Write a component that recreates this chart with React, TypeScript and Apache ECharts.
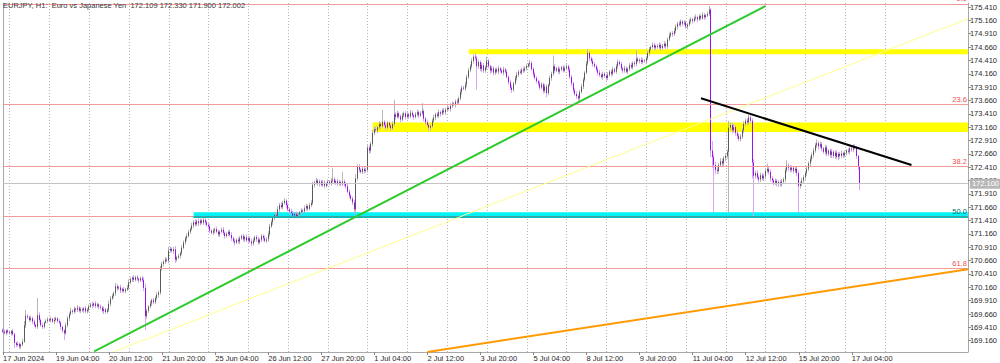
import React, { useEffect, useRef } from "react";
import * as echarts from "echarts";

// ---------- DATA ----------
const headerText = "EURJPY, H1:  Euro vs Japanese Yen  172.109 172.330 171.900 172.002";

// x axis: one category per H1 bar (bars 0..517 hold candles, the rest is empty right margin)
const categoryCount = 583;
const xTickBars = [0, 32, 64, 96, 128, 160, 192, 224, 256, 288, 320, 352, 384, 416, 448, 480, 512];
const xTickLabels = [
  "17 Jun 2024", "19 Jun 04:00", "20 Jun 12:00", "21 Jun 20:00", "25 Jun 04:00", "26 Jun 12:00",
  "27 Jun 20:00", "1 Jul 04:00", "2 Jul 12:00", "3 Jul 20:00", "5 Jul 04:00", "8 Jul 12:00",
  "9 Jul 20:00", "11 Jul 04:00", "12 Jul 12:00", "15 Jul 20:00", "17 Jul 04:00",
];
const dayStartBar = 4; // 18 Jun 00:00
const barsPerDay = 24;
const lastGridBar = 532;

const yTickValues = [
  169.16, 169.41, 169.66, 169.91, 170.16, 170.41, 170.66, 170.91, 171.16, 171.41, 171.66, 171.91,
  172.16, 172.41, 172.66, 172.91, 173.16, 173.41, 173.66, 173.91, 174.16, 174.41, 174.66, 174.91,
  175.16, 175.41,
];
const yMin = 168.949;
const yMax = 175.485;

const firstOpen = 169.36;
// closes per bar, one row per trading day
const closes = [
  169.33, 169.30, 169.35, 169.32,
  169.30, 169.34, 169.28, 169.12, 169.08, 169.10, 169.05, 169.09, 169.14, 169.45, 169.62, 169.60, 169.55, 169.58, 169.52, 169.46, 169.42, 169.64, 169.55, 169.45, 169.42, 169.50, 169.53, 169.56,
  169.54, 169.57, 169.52, 169.55, 169.58, 169.53, 169.50, 169.42, 169.35, 169.30, 169.45, 169.58, 169.66, 169.72, 169.70, 169.76, 169.74, 169.78, 169.72, 169.75, 169.73, 169.77, 169.71, 169.74,
  169.80, 169.84, 169.82, 169.86, 169.81, 169.84, 169.80, 169.78, 169.72, 169.75, 169.70, 169.74, 169.85, 169.95, 170.00, 170.05, 170.18, 170.14, 170.16, 170.10, 170.13, 170.09, 170.12, 170.15,
  170.25, 170.31, 170.34, 170.30, 170.35, 170.32, 170.29, 170.33, 170.30, 170.15, 169.62, 169.72, 169.80, 169.86, 169.92, 169.88, 169.96, 170.02, 170.06, 170.50, 170.60, 170.64, 170.68, 170.66,
  170.85, 170.88, 170.84, 170.87, 170.68, 170.72, 170.75, 170.80, 170.90, 171.00, 171.08, 171.12, 171.20, 171.25, 171.32, 171.38, 171.34, 171.40, 171.36, 171.41, 171.37, 171.42, 171.38, 171.33,
  171.30, 171.22, 171.18, 171.22, 171.25, 171.20, 171.15, 171.20, 171.24, 171.18, 171.12, 171.16, 171.20, 171.14, 171.08, 171.03, 171.00, 171.05, 171.02, 171.08, 171.12, 171.06, 171.10, 171.04,
  171.08, 171.02, 170.98, 171.04, 171.10, 171.06, 171.00, 171.05, 171.12, 171.08, 171.03, 171.06, 171.15, 171.30, 171.38, 171.46, 171.52, 171.50, 171.62, 171.70, 171.66, 171.74, 171.78, 171.70,
  171.62, 171.58, 171.55, 171.50, 171.54, 171.49, 171.52, 171.56, 171.60, 171.58, 171.64, 171.68, 171.63, 171.70, 171.74, 172.08, 172.12, 172.16, 172.10, 172.14, 172.08, 172.12, 172.06, 172.10,
  172.14, 172.11, 172.16, 172.18, 172.12, 172.15, 172.10, 172.13, 172.09, 172.14, 172.10, 172.05, 171.95, 171.88, 171.82, 171.75, 171.62, 172.20, 172.42, 172.36, 172.32, 172.38, 172.34, 172.36,
  172.78, 172.72, 172.85, 173.05, 173.12, 173.10, 173.16, 173.22, 173.18, 173.26, 173.20, 173.15, 173.24, 173.19, 173.14, 173.22, 173.40, 173.35, 173.42, 173.36, 173.30, 173.38, 173.42, 173.35,
  173.40, 173.36, 173.43, 173.38, 173.35, 173.40, 173.44, 173.38, 173.42, 173.46, 173.32, 173.25, 173.20, 173.15, 173.18, 173.28, 173.34, 173.40, 173.37, 173.44, 173.41, 173.47, 173.44, 173.49,
  173.52, 173.50, 173.56, 173.60, 173.58, 173.64, 173.62, 173.70, 173.82, 173.90, 173.88, 173.96, 174.10, 174.22, 174.30, 174.40, 174.48, 174.45, 174.30, 174.38, 174.25, 174.32, 174.22, 174.28,
  174.40, 174.30, 174.22, 174.26, 174.18, 174.24, 174.20, 174.26, 174.22, 174.18, 174.24, 174.20, 174.10, 174.00, 173.90, 173.86, 173.98, 174.08, 174.14, 174.20, 174.18, 174.24, 174.22, 174.26,
  174.30, 174.34, 174.36, 174.25, 174.15, 174.08, 174.02, 173.98, 173.90, 173.96, 173.84, 173.92, 173.80, 173.95, 174.08, 174.16, 174.30, 174.22, 174.26, 174.20, 174.24, 174.28, 174.22, 174.26,
  174.30, 174.24, 174.10, 173.98, 173.85, 173.78, 173.74, 173.70, 173.82, 173.92, 174.05, 174.18, 174.35, 174.55, 174.45, 174.40, 174.34, 174.30, 174.24, 174.18, 174.14, 174.10, 174.16, 174.12,
  174.08, 174.14, 174.20, 174.16, 174.24, 174.20, 174.30, 174.38, 174.34, 174.26, 174.22, 174.26, 174.20, 174.25, 174.32, 174.28, 174.36, 174.34, 174.44, 174.40, 174.42, 174.38, 174.41, 174.40,
  174.45, 174.55, 174.62, 174.66, 174.70, 174.65, 174.68, 174.66, 174.70, 174.64, 174.68, 174.72, 174.67, 174.80, 174.88, 174.92, 174.90, 174.96, 175.04, 175.10, 175.08, 175.14, 175.10, 175.12,
  175.04, 175.08, 175.14, 175.18, 175.15, 175.20, 175.22, 175.18, 175.24, 175.20, 175.26, 175.22, 175.25, 175.28, 175.36, 172.72, 172.60, 172.45, 172.36, 172.34, 172.45, 172.52, 172.48, 172.58,
  172.62, 172.70, 173.15, 173.20, 173.10, 173.16, 173.05, 173.00, 172.94, 172.98, 173.10, 173.22, 173.28, 173.25, 173.34, 173.28, 172.50, 172.25, 172.30, 172.22, 172.18, 172.26, 172.20, 172.24,
  172.34, 172.38, 172.32, 172.20, 172.16, 172.12, 172.15, 172.10, 172.13, 172.09, 172.14, 172.18, 172.35, 172.44, 172.40, 172.36, 172.40, 172.34, 172.38, 172.30, 172.06, 172.10, 172.16, 172.22,
  172.30, 172.38, 172.48, 172.56, 172.64, 172.72, 172.82, 172.86, 172.80, 172.84, 172.76, 172.70, 172.78, 172.66, 172.72, 172.64, 172.70, 172.62, 172.68, 172.60, 172.66, 172.62, 172.67, 172.63,
  172.68, 172.72, 172.70, 172.76, 172.74, 172.80, 172.78, 172.62, 172.42, 172.10,
];
// upper wick above the body, in 0.01 JPY
const upperWick = [
  3, 4, 2, 3,
  3, 2, 4, 3, 2, 5, 3, 2, 6, 8, 12, 4, 3, 5, 3, 4, 2, 32, 5, 3, 4, 2, 3, 4,
  3, 4, 2, 5, 3, 2, 4, 3, 2, 3, 5, 4, 3, 6, 3, 4, 2, 5, 3, 4, 3, 2, 4, 3,
  4, 3, 5, 2, 4, 3, 2, 4, 3, 5, 2, 3, 6, 5, 4, 3, 6, 4, 3, 5, 2, 4, 3, 5,
  6, 4, 3, 5, 3, 4, 2, 3, 4, 5, 8, 4, 3, 5, 3, 4, 3, 5, 4, 6, 4, 3, 5, 3,
  7, 4, 3, 5, 6, 3, 4, 3, 5, 4, 3, 5, 4, 3, 5, 4, 6, 3, 5, 4, 3, 4, 5, 3,
  4, 5, 3, 4, 3, 5, 4, 3, 4, 5, 3, 4, 3, 4, 5, 3, 4, 3, 5, 4, 3, 4, 3, 5,
  4, 3, 5, 4, 3, 4, 5, 3, 4, 3, 5, 4, 6, 5, 4, 3, 5, 4, 6, 4, 5, 4, 5, 3,
  4, 3, 5, 4, 3, 4, 5, 3, 4, 3, 5, 4, 3, 4, 5, 6, 4, 5, 3, 4, 3, 5, 4, 3,
  4, 3, 5, 22, 4, 3, 5, 4, 3, 18, 4, 3, 5, 4, 3, 4, 5, 8, 4, 5, 3, 4, 3, 4,
  6, 5, 4, 6, 5, 4, 3, 5, 4, 22, 3, 5, 4, 3, 4, 5, 27, 4, 5, 3, 4, 5, 3, 4,
  4, 3, 5, 4, 3, 4, 5, 3, 4, 15, 4, 3, 5, 4, 3, 4, 5, 3, 4, 5, 3, 4, 5, 3,
  4, 3, 5, 4, 3, 4, 5, 3, 5, 4, 3, 5, 4, 5, 4, 5, 4, 6, 5, 4, 3, 5, 4, 3,
  8, 4, 3, 5, 4, 3, 4, 5, 3, 4, 5, 3, 4, 3, 4, 5, 3, 4, 5, 3, 4, 3, 5, 4,
  4, 3, 6, 4, 3, 5, 4, 3, 5, 4, 3, 5, 4, 3, 5, 4, 20, 4, 3, 5, 4, 3, 4, 5,
  4, 3, 5, 4, 3, 4, 5, 3, 4, 5, 4, 3, 5, 7, 4, 3, 5, 4, 3, 4, 5, 3, 4, 3,
  4, 5, 3, 4, 5, 3, 4, 5, 3, 4, 3, 5, 4, 3, 4, 5, 3, 4, 16, 4, 3, 5, 4, 3,
  4, 5, 4, 3, 5, 4, 3, 4, 5, 3, 4, 5, 3, 4, 5, 3, 4, 5, 4, 3, 5, 4, 3, 4,
  4, 3, 5, 4, 3, 4, 5, 3, 4, 3, 5, 4, 3, 4, 7, 3, 18, 5, 6, 5, 4, 6, 5, 4,
  5, 4, 13, 5, 4, 6, 4, 5, 4, 5, 4, 5, 4, 5, 6, 4, 5, 6, 4, 5, 4, 5, 4, 5,
  5, 10, 4, 5, 4, 3, 5, 4, 3, 4, 5, 4, 5, 10, 4, 5, 4, 3, 5, 4, 5, 4, 5, 4,
  4, 5, 4, 5, 4, 5, 4, 7, 4, 5, 4, 3, 5, 4, 3, 4, 5, 3, 4, 5, 3, 4, 5, 3,
  4, 3, 5, 4, 3, 4, 4, 3, 2, 1,
];
// lower wick below the body, in 0.01 JPY
const lowerWick = [
  3, 2, 4, 3,
  3, 4, 2, 10, 4, 3, 5, 4, 3, 2, 5, 3, 4, 3, 5, 4, 3, 4, 5, 3, 4, 3, 2, 4,
  3, 4, 3, 5, 3, 4, 3, 5, 4, 13, 3, 4, 5, 3, 4, 3, 5, 4, 3, 4, 3, 5, 3, 4,
  4, 3, 5, 3, 4, 3, 5, 4, 3, 6, 4, 3, 4, 5, 3, 4, 5, 4, 3, 5, 4, 3, 4, 3,
  4, 3, 5, 4, 3, 4, 5, 3, 4, 6, 26, 5, 4, 3, 5, 4, 3, 4, 5, 4, 3, 5, 4, 3,
  5, 4, 3, 5, 6, 4, 3, 5, 4, 3, 4, 5, 3, 4, 3, 5, 4, 3, 5, 4, 3, 4, 5, 4,
  4, 5, 3, 4, 5, 3, 4, 5, 3, 4, 5, 3, 4, 3, 5, 4, 6, 3, 4, 5, 3, 4, 5, 3,
  4, 3, 5, 4, 3, 5, 4, 3, 4, 5, 3, 4, 5, 4, 3, 5, 4, 3, 4, 5, 3, 4, 3, 5,
  4, 5, 3, 4, 5, 3, 4, 3, 5, 4, 3, 4, 5, 3, 4, 4, 5, 3, 4, 5, 3, 4, 5, 3,
  4, 3, 5, 4, 3, 4, 5, 3, 4, 3, 5, 4, 3, 5, 4, 5, 10, 5, 4, 5, 3, 4, 5, 3,
  5, 6, 4, 5, 4, 3, 5, 4, 5, 3, 4, 5, 3, 4, 5, 3, 4, 5, 3, 4, 5, 3, 4, 5,
  4, 5, 3, 4, 5, 3, 4, 5, 3, 4, 5, 4, 3, 7, 5, 3, 4, 5, 3, 4, 5, 3, 4, 5,
  4, 3, 5, 4, 3, 5, 4, 3, 4, 5, 3, 4, 5, 4, 3, 4, 5, 4, 44, 5, 4, 6, 5, 4,
  5, 4, 6, 4, 5, 4, 3, 5, 4, 3, 5, 4, 3, 5, 4, 6, 4, 3, 5, 4, 3, 4, 5, 3,
  4, 3, 5, 4, 5, 3, 4, 5, 4, 3, 5, 4, 8, 4, 3, 5, 4, 5, 3, 4, 5, 3, 4, 3,
  4, 5, 4, 5, 4, 3, 5, 7, 4, 3, 5, 4, 3, 4, 6, 4, 5, 3, 4, 5, 4, 3, 5, 4,
  5, 4, 3, 5, 4, 3, 4, 5, 3, 4, 5, 4, 3, 5, 4, 3, 4, 5, 4, 3, 5, 4, 3, 4,
  4, 3, 5, 4, 3, 5, 4, 3, 4, 5, 3, 4, 5, 4, 3, 4, 5, 3, 4, 5, 3, 4, 5, 3,
  4, 5, 3, 4, 5, 3, 4, 5, 3, 4, 3, 5, 4, 3, 4, 12, 20, 90, 8, 6, 5, 4, 6, 5,
  6, 5, 115, 5, 6, 4, 5, 6, 4, 5, 4, 5, 4, 5, 4, 5, 30, 77, 5, 4, 6, 5, 4, 5,
  5, 4, 5, 6, 4, 5, 4, 5, 6, 4, 5, 4, 5, 4, 6, 5, 4, 5, 4, 6, 51, 5, 4, 5,
  4, 5, 4, 5, 4, 5, 4, 5, 6, 4, 5, 4, 6, 5, 4, 5, 6, 4, 5, 4, 6, 5, 4, 5,
  4, 5, 4, 5, 4, 5, 4, 5, 6, 12,
];

// Fibonacci retracement levels
const fibLabels = ["0.0", "23.6", "38.2", "50.0", "61.8"];
const fibPrices = [175.466, 173.594, 172.432, 171.485, 170.52];

// highlighted zones: start bar, upper price, lower price
const zoneStartBars = [281, 223, 115];
const zoneHighs = [174.62, 173.245, 171.565];
const zoneLows = [174.525, 173.07, 171.46];
const zoneColors = ["#ffff00", "#ffff00", "#00f4f4"];
// darker strip where the 50.0 level crosses the cyan zone
const cyanStripBars = [115, 582];
const cyanStripPrice = 171.48;

// trend lines: [bar, price] anchors
const greenLine = [[55, 168.96], [460, 175.43]];
const thinYellowLine = [[67, 168.955], [582, 175.19]];
const orangeLine = [[256, 168.95], [582, 170.5]];
const blackLine = [[421, 173.7], [548, 172.45]];

const bidPrice = 172.1;

// ---------- COLOURS ----------
const bullBody = "#5a5a5a";
const bearBody = "#9a12e6";
const bullWick = "#b6b6b6";
const bearWick = "#d8a8f4";
const axisGrey = "#a8a8a8";
const font = "Liberation Sans";

export default function App() {
  const ref = useRef<HTMLDivElement>(null);

  useEffect(() => {
    if (!ref.current) return;
    const chart = echarts.init(ref.current, undefined, { renderer: "svg" });

    const categories = Array.from({ length: categoryCount }, (_, i) => String(i));
    const opens = closes.map((c, i) => (i === 0 ? firstOpen : closes[i - 1]));
    const r3 = (v: number) => Math.round(v * 1000) / 1000;
    const highs = closes.map((c, i) => r3(Math.max(opens[i], c) + upperWick[i] / 100));
    const lows = closes.map((c, i) => r3(Math.min(opens[i], c) - lowerWick[i] / 100));
    const wickData = closes.map((c, i) => [opens[i], c, lows[i], highs[i]]);
    const bodyData = closes.map((c, i) => [opens[i], c, Math.min(opens[i], c), Math.max(opens[i], c)]);

    const tickSet = new Map<number, string>();
    xTickBars.forEach((b, i) => tickSet.set(b, xTickLabels[i]));
    const isTick = (idx: number) => tickSet.has(idx);
    const isDay = (idx: number) => idx >= dayStartBar && idx <= lastGridBar && (idx - dayStartBar) % barsPerDay === 0;

    const trend = (name: string, data: number[][], color: string, width: number, z: number) => ({
      type: "line",
      name,
      data,
      symbol: "none",
      silent: true,
      clip: true,
      z,
      lineStyle: { color, width },
    });

    const option: any = {
      animation: false,
      backgroundColor: "#ffffff",
      title: {
        text: headerText,
        left: 3,
        top: 1,
        padding: 0,
        textStyle: { fontSize: 7.5, fontWeight: "normal", color: "#3a3a3a", fontFamily: font },
        z: 20,
      },
      grid: { left: 1, right: 29, top: 3, bottom: 11, containLabel: false },
      xAxis: {
        type: "category",
        data: categories,
        boundaryGap: false,
        axisLine: { show: true, lineStyle: { color: axisGrey, width: 1 } },
        axisTick: { show: true, interval: (idx: number) => isTick(idx), length: 3, lineStyle: { color: "#888" } },
        axisLabel: {
          interval: (idx: number) => isTick(idx),
          formatter: (_v: string, idx: number) => tickSet.get(idx) || "",
          align: "left",
          margin: 2,
          fontSize: 7.5,
          color: "#2a2a2a",
          fontFamily: font,
        },
        splitLine: {
          show: true,
          interval: (idx: number) => isDay(idx),
          lineStyle: { color: "#b4b4b4", type: [1, 2], width: 1 },
        },
      },
      yAxis: [
        {
          type: "value",
          position: "right",
          min: yMin,
          max: yMax,
          scale: true,
          axisLine: { show: true, lineStyle: { color: axisGrey, width: 1 } },
          axisTick: { show: true, customValues: yTickValues, length: 3, lineStyle: { color: "#888" } },
          axisLabel: {
            customValues: yTickValues,
            formatter: (v: number) => v.toFixed(3),
            margin: 2,
            fontSize: 7.5,
            color: "#2a2a2a",
            fontFamily: font,
          },
          splitLine: { show: false },
        },
        {
          type: "value",
          position: "left",
          min: yMin,
          max: yMax,
          axisLine: { show: true, lineStyle: { color: axisGrey, width: 1 } },
          axisTick: { show: false },
          axisLabel: { show: false },
          splitLine: { show: false },
        },
      ],
      series: [
        {
          type: "line",
          name: "levels",
          data: [],
          silent: true,
          z: 1,
          markArea: {
            silent: true,
            data: zoneStartBars.map((b, i) => [
              { xAxis: String(b), yAxis: zoneHighs[i], itemStyle: { color: zoneColors[i], opacity: 1 } },
              { xAxis: String(categoryCount - 1), yAxis: zoneLows[i] },
            ]),
          },
          markLine: {
            silent: true,
            symbol: "none",
            animation: false,
            data: [
              ...fibPrices.map((p, i) => ({
                yAxis: p,
                lineStyle: { color: "#f29a9a", width: 1, type: "solid" },
                label: {
                  show: true,
                  formatter: fibLabels[i],
                  position: "insideEndTop",
                  distance: [1, 1],
                  color: fibLabels[i] === "50.0" ? "#006e6e" : "#f05050",
                  fontSize: 7.5,
                  fontFamily: font,
                },
              })),
              [
                { coord: [String(cyanStripBars[0]), cyanStripPrice], lineStyle: { color: "#00a8a8", width: 1.5, type: "solid" }, label: { show: false } },
                { coord: [String(cyanStripBars[1]), cyanStripPrice] },
              ],
              {
                yAxis: bidPrice,
                lineStyle: { color: "#c4c4c4", width: 1, type: "solid" },
                label: {
                  show: true,
                  formatter: bidPrice.toFixed(3),
                  position: "end",
                  distance: 2,
                  color: "#ffffff",
                  backgroundColor: "#b8b8b8",
                  padding: [1, 2],
                  fontSize: 7.5,
                  fontFamily: font,
                },
              },
            ],
          },
        },
        {
          type: "candlestick",
          name: "wicks",
          data: wickData,
          barWidth: 1,
          silent: true,
          z: 3,
          itemStyle: { color: bullWick, color0: bearWick, borderColor: bullWick, borderColor0: bearWick, borderWidth: 1 },
        },
        {
          type: "candlestick",
          name: "bodies",
          data: bodyData,
          barWidth: 0.8,
          silent: true,
          z: 4,
          itemStyle: { color: bullBody, color0: bearBody, borderColor: bullBody, borderColor0: bearBody, borderWidth: 1 },
        },
        trend("green", greenLine, "#2ccb2c", 2, 5),
        trend("thinYellow", thinYellowLine, "#ffff8a", 1, 5),
        trend("orange", orangeLine, "#ff9a00", 2, 5),
        trend("black", blackLine, "#000000", 2, 6),
      ],
    };

    chart.setOption(option);
    return () => chart.dispose();
  }, []);

  return <div ref={ref} style={{ width: 1000, height: 363, position: "absolute", left: 0, top: 0 }} />;
}
